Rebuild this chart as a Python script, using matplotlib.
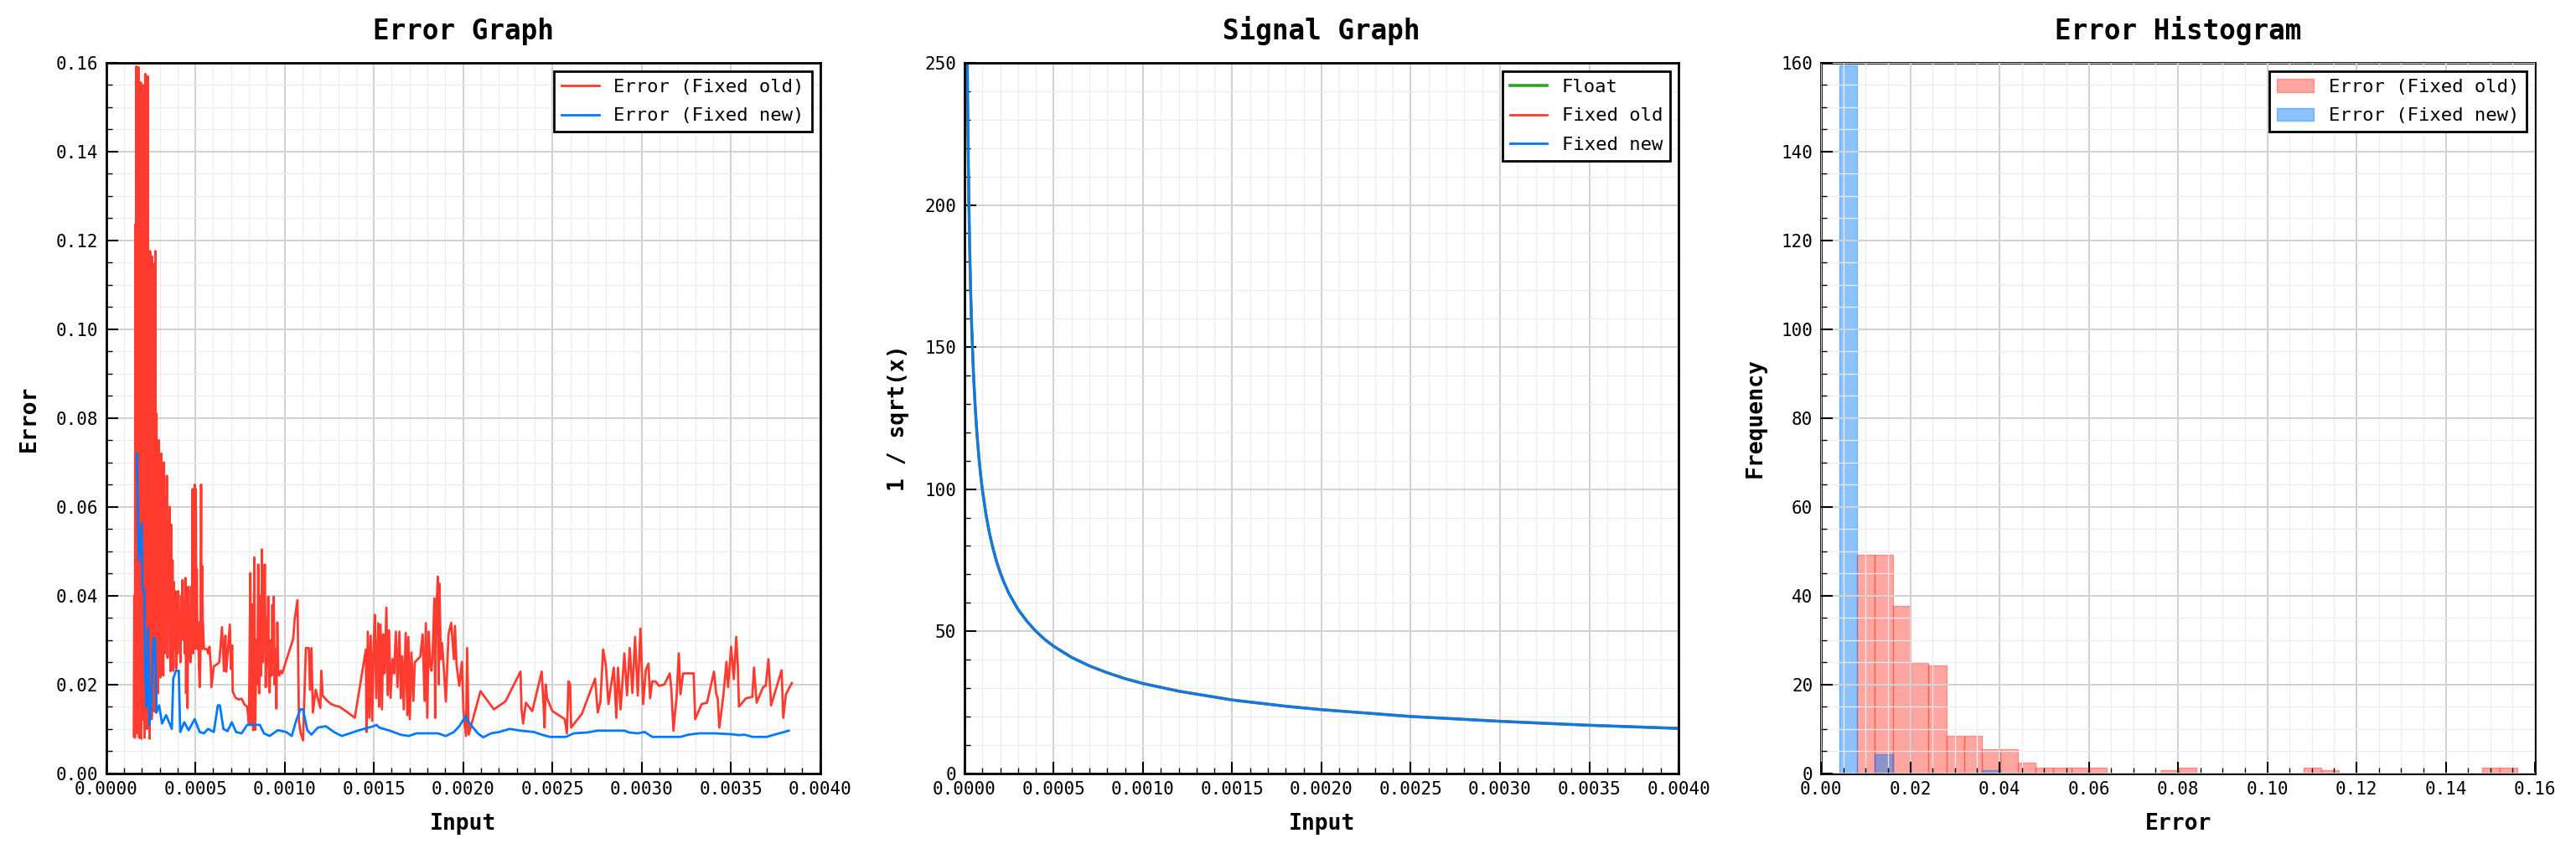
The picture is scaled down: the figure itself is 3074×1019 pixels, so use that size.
import numpy as np
import matplotlib
matplotlib.use('Agg')
import matplotlib.pyplot as plt
from matplotlib.ticker import MultipleLocator

plt.rcParams['font.family'] = ['DejaVu Sans Mono']

RED = '#ff3b30'
BLUE = '#007aff'
GREEN = '#2ca02c'

# ---- error graph data (input in 1e-6, error in 1e-3) ----
old_x_u = [155, 158, 161, 164, 167, 170, 173, 176, 179, 182, 185, 188, 191, 194, 197, 200, 203, 206, 209, 212,
           215, 219, 222, 226, 229, 233, 236, 240, 243, 246, 249, 252, 255, 258, 261, 264, 267, 270, 273, 276,
           279, 282, 285, 288, 291, 294, 297, 300, 304, 308, 312, 316, 320, 324, 328, 332, 336, 340, 344, 348,
           352, 356, 360, 364, 368, 372, 376, 380, 384, 388, 392, 396, 400, 404, 408, 412, 416, 420, 424, 428,
           432, 436, 440, 444, 448, 452, 456, 460, 464, 468, 472, 476, 480, 484, 487, 490, 493, 496, 499, 502,
           505, 508, 512, 516, 520, 524, 528, 532, 535, 538, 541, 548, 555, 563, 571, 579, 587, 590, 603, 620,
           634, 649, 660, 668, 673, 693, 699, 706, 709, 725, 743, 759, 775, 790, 800, 808, 812, 818, 824, 830,
           835, 842, 847, 852, 857, 863, 868, 873, 878, 884, 889, 894, 900, 904, 908, 912, 916, 922, 927, 931,
           935, 939, 944, 949, 954, 959, 964, 970, 978, 986, 1010, 1030, 1048, 1056, 1072, 1080, 1090, 1103, 1119, 1127,
           1135, 1142, 1150, 1158, 1174, 1185, 1200, 1205, 1213, 1235, 1260, 1285, 1307, 1350, 1393, 1455, 1458, 1466, 1474, 1482,
           1490, 1498, 1505, 1513, 1524, 1529, 1537, 1545, 1552, 1560, 1570, 1577, 1585, 1593, 1604, 1613, 1623, 1632, 1643, 1651,
           1659, 1667, 1678, 1687, 1693, 1701, 1710, 1721, 1729, 1760, 1773, 1784, 1791, 1799, 1807, 1815, 1823, 1830, 1839, 1843,
           1848, 1858, 1863, 1867, 1875, 1882, 1888, 1903, 1918, 1933, 1948, 1954, 1963, 1978, 1993, 2002, 2016, 2022, 2031, 2097,
           2172, 2237, 2321, 2327, 2336, 2351, 2387, 2440, 2450, 2456, 2462, 2470, 2500, 2569, 2581, 2590, 2599, 2605, 2665, 2739,
           2754, 2769, 2784, 2799, 2814, 2829, 2844, 2858, 2867, 2882, 2903, 2918, 2933, 2948, 2963, 2978, 2993, 3008, 3023, 3038,
           3047, 3059, 3077, 3097, 3127, 3157, 3166, 3178, 3196, 3208, 3217, 3232, 3291, 3300, 3336, 3366, 3405, 3417, 3426, 3435,
           3456, 3475, 3484, 3501, 3516, 3530, 3539, 3545, 3584, 3620, 3629, 3644, 3680, 3695, 3710, 3725, 3784, 3793, 3808, 3841]
old_err_m = [8.4, 40, 8.0, 123.6, 11.5, 159.2, 9, 140, 20, 159, 8, 120, 15, 155.6, 7.8, 152, 25, 155, 12, 100,
             8, 157.5, 22, 140, 10, 157, 30, 60, 7.8, 117.6, 15, 90, 12.2, 116.4, 25, 100, 14, 114.8, 20, 117.6,
             13.7, 81, 30, 66, 18, 75, 25, 68, 21.6, 72, 28, 66, 22, 70, 27, 62, 30, 67, 26, 58,
             35, 60, 23, 56, 30, 48, 23.1, 43, 28, 41, 23.6, 38, 27, 41, 30, 35, 25, 40, 33, 43.5,
             30, 37, 27, 44, 18, 37, 14.7, 42, 28, 36, 25, 42, 27.5, 64, 27, 62, 30, 65, 28, 64,
             35, 46, 28, 34, 23.8, 19.4, 26, 65, 28, 46.7, 35, 28, 28, 28, 27, 28.5, 23.8, 19.4, 24.1, 24.5,
             25, 32.9, 23, 31, 22.9, 33.5, 23.5, 28.8, 18.4, 17, 16.6, 16.8, 15.5, 15, 11.2, 45.1, 11.3, 38, 9.7, 48.6,
             9.8, 30, 20, 47, 18, 40, 22, 50.4, 25, 38, 47, 19.4, 35, 24, 39.8, 20, 18.2, 30, 22, 37.9,
             25, 39.8, 20, 28, 14.6, 34, 23.1, 22, 23.1, 22.5, 25.5, 28, 30.3, 34.7, 39, 11.8, 9, 7.4, 28.2, 28.2,
             28.2, 18.8, 28.2, 13.7, 18.8, 17, 14.7, 23.1, 17.5, 16.5, 15.6, 15.2, 15, 13.8, 12.5, 27.9, 9.3, 31.9, 12.5, 31,
             11.8, 28.2, 35.7, 16.9, 33.8, 15, 33.5, 14.4, 31.3, 22.5, 37.3, 17.6, 32.2, 17, 25.7, 22.5, 31.9, 19.4, 31.9, 16.9,
             26.4, 14.4, 31.6, 13.1, 30.7, 12.2, 27.2, 16.3, 25, 26.3, 31.3, 16.3, 33.8, 12.5, 31.9, 24.4, 23.1, 28.2, 39.4, 12.5,
             34.5, 44.3, 20, 42.7, 25.7, 29.3, 25.7, 16.2, 31.4, 33.9, 25.7, 33.2, 24.4, 19.7, 25.1, 13.7, 8.4, 28.2, 8.7, 18.5,
             14.4, 16.2, 22.9, 14.4, 11.2, 15.9, 14, 22.9, 15.6, 10.3, 20, 16.9, 14, 12.2, 9, 20.7, 20.1, 10.3, 13.4, 21.3,
             13.7, 16.2, 27.9, 24.4, 15.6, 20, 23.8, 12.5, 23.8, 14.4, 27, 17.6, 28.2, 18.1, 30.7, 17.5, 32.6, 15.6, 23.2, 24.7,
             16.9, 20.7, 20.7, 19.7, 20, 22.5, 19, 9.6, 17.5, 27, 17.8, 22.5, 22.5, 12.2, 15.6, 15.9, 22.9, 18, 16.9, 10.3,
             16.9, 25.1, 19.4, 28.5, 21.2, 30.7, 23.8, 15, 16.9, 17.2, 23.8, 15.9, 19.4, 19.7, 25.7, 15.3, 23.2, 12.5, 17.8, 20.3]

new_x_u = [172, 183, 199, 203, 214, 219, 227, 235, 242, 250, 266, 274, 282, 297, 313, 336, 368, 376, 391, 407,
           415, 438, 462, 496, 524, 548, 571, 603, 626, 637, 657, 680, 704, 728, 759, 790, 861, 884, 915, 962,
           1009, 1040, 1064, 1088, 1103, 1127, 1150, 1186, 1231, 1276, 1320, 1365, 1410, 1470, 1497, 1515, 1530, 1589, 1649, 1694,
           1739, 1858, 1903, 1948, 1978, 2013, 2037, 2082, 2112, 2157, 2202, 2261, 2321, 2396, 2440, 2485, 2575, 2620, 2695, 2754,
           2904, 2928, 2978, 3017, 3059, 3217, 3262, 3322, 3411, 3501, 3546, 3576, 3621, 3700, 3770, 3824]
new_err_m = [72, 47.9, 56.4, 41.3, 41.3, 23.1, 15, 32.6, 10.9, 14.4, 30.4, 30.4, 13.7, 15.3, 11.2, 13.1, 10, 21.3, 23.1, 23.1,
             9.3, 11.5, 9.7, 12.2, 9.3, 9, 10, 9.3, 15.3, 15.3, 10, 9.5, 11.5, 9.3, 9, 10.9, 10.9, 9, 8.4, 9.7,
             9.3, 8.4, 11.8, 14.4, 14.4, 9.7, 8.7, 10.3, 10.6, 9.3, 8.4, 9.0, 9.6, 10.3, 10.6, 10.9, 10.3, 9.6, 8.7, 8.4,
             9.0, 9.0, 8.4, 9.3, 10.6, 12.8, 11.2, 9.0, 8.1, 9.0, 9.3, 10.0, 9.6, 9.3, 8.7, 8.2, 8.2, 9.0, 9.2, 9.6,
             9.6, 9.2, 9.0, 9.3, 8.2, 8.2, 8.7, 9.0, 9.0, 8.8, 8.6, 8.7, 8.2, 8.2, 9.0, 9.6]

# ---- signal graph data ----
sig_x = [0.000016, 0.000018, 0.00002, 0.000025, 0.00003, 0.000035, 0.00004, 0.00005, 0.00006, 0.00007,
         0.00008, 0.00009, 0.0001, 0.00012, 0.00014, 0.00016, 0.00018, 0.0002, 0.00022, 0.00025,
         0.0003, 0.00035, 0.0004, 0.00045, 0.0005, 0.0006, 0.0007, 0.0008, 0.0009, 0.001,
         0.0012, 0.0015, 0.0018, 0.002, 0.0025, 0.003, 0.0035, 0.004]
sig_y = [250, 235.7, 223.6, 200, 182.6, 169, 158.1, 141.4, 129.1, 119.5,
         111.8, 105.4, 100, 91.3, 84.5, 79.1, 74.5, 70.7, 67.4, 63.2,
         57.7, 53.5, 50, 47.1, 44.7, 40.8, 37.8, 35.4, 33.3, 31.6,
         28.9, 25.8, 23.6, 22.4, 20, 18.3, 16.9, 15.8]

# ---- histogram data ----
old_bin_left = [0.0081, 0.0121, 0.0161, 0.0201, 0.0241, 0.0281, 0.0321, 0.0361, 0.0401, 0.0441,
                0.0481, 0.0521, 0.0561, 0.0601, 0.0761, 0.0801, 0.1081, 0.1121, 0.1481, 0.1521]
old_freq = [49.3, 49.3, 37.6, 24.9, 24.3, 8.4, 8.4, 5.4, 5.4, 2.4,
            1.26, 1.26, 1.26, 1.26, 0.63, 1.26, 1.26, 0.63, 1.26, 1.26]
new_bin_left = [0.0041, 0.0121, 0.0361]
new_freq = [159.4, 4.3, 0.63]
bin_w = 0.004


def style(ax, xmaj, xmin, ymaj, ymin):
    ax.xaxis.set_major_locator(MultipleLocator(xmaj))
    ax.xaxis.set_minor_locator(MultipleLocator(xmin))
    ax.yaxis.set_major_locator(MultipleLocator(ymaj))
    ax.yaxis.set_minor_locator(MultipleLocator(ymin))
    ax.tick_params(which='major', direction='in', length=10, width=1.5, labelsize=15, pad=7)
    ax.tick_params(which='minor', direction='in', length=5, width=1)
    ax.grid(which='major', color='#d2d2d2', lw=1.5)
    ax.grid(which='minor', color='#ececec', lw=0.9)
    for s in ax.spines.values():
        s.set_linewidth(2)
    leg = ax.legend(loc='upper right', fontsize=16, labelspacing=0.65, fancybox=False,
                    framealpha=1, edgecolor='black', borderaxespad=0.45)
    leg.get_frame().set_linewidth(2)


fig = plt.figure(figsize=(30.74, 10.19), dpi=100)
ax1 = fig.add_axes([0.0412, 0.0945, 0.2772, 0.8319])
ax2 = fig.add_axes([0.3744, 0.0945, 0.2772, 0.8319])
ax3 = fig.add_axes([0.7069, 0.0945, 0.2772, 0.8319])

# error graph
ax1.set_axisbelow(True)
ax1.plot(np.array(old_x_u) * 1e-6, np.array(old_err_m) * 1e-3, color=RED, lw=2, label='Error (Fixed old)')
ax1.plot(np.array(new_x_u) * 1e-6, np.array(new_err_m) * 1e-3, color=BLUE, lw=2, label='Error (Fixed new)')
ax1.set_xlim(0, 0.004)
ax1.set_ylim(0, 0.16)
ax1.set_title('Error Graph', fontsize=23.5, fontweight='bold', pad=20)
ax1.set_xlabel('Input', fontsize=19, fontweight='bold', labelpad=13)
ax1.set_ylabel('Error', fontsize=19, fontweight='bold', labelpad=13)
style(ax1, 0.0005, 0.0001, 0.02, 0.005)

# signal graph
ax2.set_axisbelow(True)
ax2.plot(sig_x, sig_y, color=GREEN, lw=2.6, label='Float')
ax2.plot(sig_x, sig_y, color=RED, lw=2, label='Fixed old')
ax2.plot(sig_x, sig_y, color=BLUE, lw=2, label='Fixed new')
ax2.set_xlim(0, 0.004)
ax2.set_ylim(0, 250)
ax2.set_title('Signal Graph', fontsize=23.5, fontweight='bold', pad=20)
ax2.set_xlabel('Input', fontsize=19, fontweight='bold', labelpad=13)
ax2.set_ylabel('1 / sqrt(x)', fontsize=19, fontweight='bold', labelpad=13)
style(ax2, 0.0005, 0.0001, 50, 10)

# error histogram
ax3.set_axisbelow(False)
ax3.bar(old_bin_left, old_freq, width=bin_w, align='edge', color=RED, edgecolor=RED,
        alpha=0.45, lw=1, label='Error (Fixed old)')
ax3.bar(new_bin_left, new_freq, width=bin_w, align='edge', color=BLUE, edgecolor=BLUE,
        alpha=0.45, lw=1, label='Error (Fixed new)')
ax3.set_xlim(0, 0.16)
ax3.set_ylim(0, 160)
ax3.set_title('Error Histogram', fontsize=23.5, fontweight='bold', pad=20)
ax3.set_xlabel('Error', fontsize=19, fontweight='bold', labelpad=13)
ax3.set_ylabel('Frequency', fontsize=19, fontweight='bold', labelpad=13)
style(ax3, 0.02, 0.005, 20, 5)

fig.savefig('out.png', dpi=100)
